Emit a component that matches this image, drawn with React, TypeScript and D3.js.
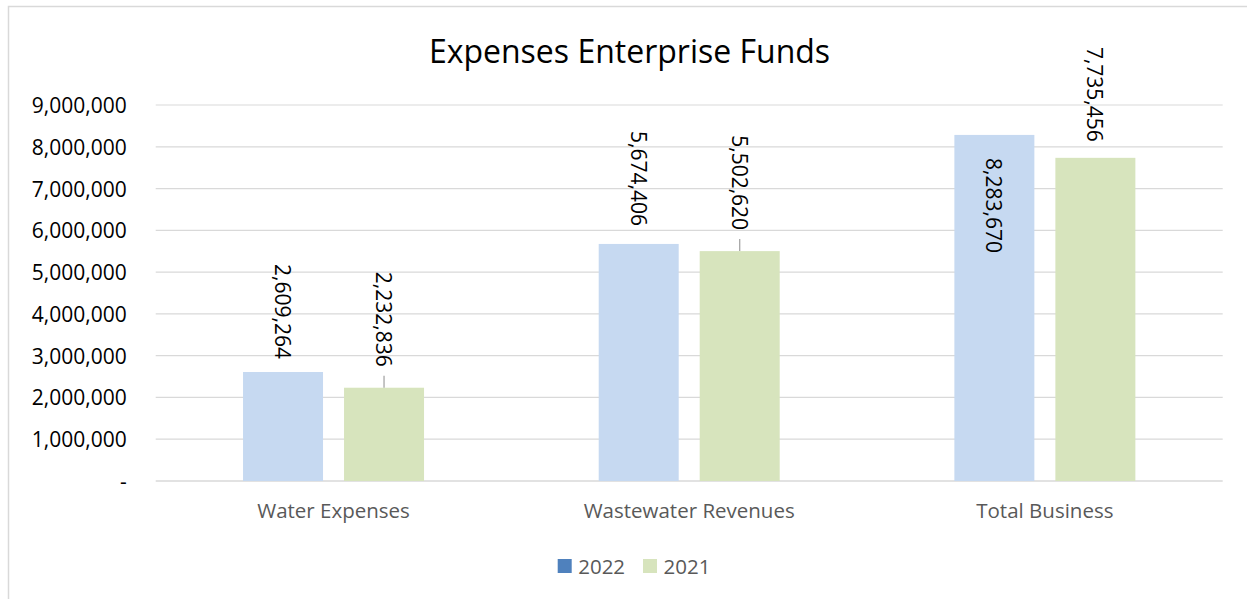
import React from "react";
import * as d3 from "d3";

const categories = ["Water Expenses", "Wastewater Revenues", "Total Business"];
const seriesNames = ["2022", "2021"];
const values2022 = [2609264, 5674406, 8283670];
const values2021 = [2232836, 5502620, 7735456];
const yTicks = [0, 1000000, 2000000, 3000000, 4000000, 5000000, 6000000, 7000000, 8000000, 9000000];

// label end offset (px) relative to bar top, per category, per series; negative = above
const labelOffsets2022 = [-13, -18, 118];
const labelOffsets2021 = [-21, -21, -16];
const leader2021 = [true, true, false];

const W = 1247;
const H = 599;
const FONT = "'Open Sans', 'Noto Sans', sans-serif";

const barColors = ["#C6D9F1", "#D7E4BD"];
const legendColors = ["#4F81BD", "#D7E4BD"];

export default function App() {
  const left = 155.7;
  const right = 1222.7;
  const top = 105;
  const bottom = 481;

  const x = d3.scaleBand<string>().domain(categories).range([left, right]).padding(0);
  const inner = d3
    .scaleBand<string>()
    .domain(seriesNames)
    .range([-90.5, 90.5])
    .paddingInner(0.208)
    .paddingOuter(0);
  const y = d3.scaleLinear().domain([0, 9000000]).range([bottom, top]);
  const fmt = d3.format(",");

  const series = [
    { name: "2022", values: values2022, offsets: labelOffsets2022, leaders: [false, false, false] },
    { name: "2021", values: values2021, offsets: labelOffsets2021, leaders: leader2021 },
  ];

  return (
    <svg
      width={W}
      height={H}
      style={{ position: "absolute", left: 0, top: 0, display: "block", background: "#fff" }}
      fontFamily={FONT}
    >
      <rect x={8.5} y={6.5} width={W + 10} height={H + 10} fill="#fff" stroke="#d9d9d9" strokeWidth={1.5} />

      <text x={629.5} y={62.5} textAnchor="middle" fontSize={32} fill="#000">
        Expenses Enterprise Funds
      </text>

      {yTicks.map((t) => (
        <g key={t}>
          <line
            x1={left}
            x2={right}
            y1={y(t)}
            y2={y(t)}
            stroke="#d9d9d9"
            strokeWidth={t === 0 ? 1.6 : 1.2}
          />
          <text
            x={126.7}
            y={y(t)}
            textAnchor="end"
            dominantBaseline="central"
            fontSize={21}
            fill="#000"
          >
            {t === 0 ? "-" : fmt(t)}
          </text>
        </g>
      ))}

      {series.map((s, si) =>
        categories.map((c, ci) => {
          const cx = (x(c) as number) + x.bandwidth() / 2;
          const bx = cx + (inner(s.name) as number);
          const bw = inner.bandwidth();
          const v = s.values[ci];
          const yt = y(v);
          const labelEnd = yt + s.offsets[ci];
          const lx = bx + bw / 2;
          return (
            <g key={s.name + c}>
              <rect x={bx} y={yt} width={bw} height={bottom - yt} fill={barColors[si]} />
              {s.leaders[ci] && (
                <line x1={lx} x2={lx} y1={labelEnd + 9} y2={yt} stroke="#a6a6a6" strokeWidth={1.3} />
              )}
              <text
                transform={`translate(${lx},${labelEnd}) rotate(90)`}
                textAnchor="end"
                dominantBaseline="central"
                fontSize={21}
                fill="#000"
              >
                {fmt(v)}
              </text>
            </g>
          );
        })
      )}

      {categories.map((c) => (
        <text
          key={c}
          x={(x(c) as number) + x.bandwidth() / 2}
          y={518.3}
          textAnchor="middle"
          fontSize={20.5}
          fill="#595959"
        >
          {c}
        </text>
      ))}

      {seriesNames.map((n, i) => {
        const sx = i === 0 ? 557.7 : 643;
        return (
          <g key={n}>
            <rect x={sx} y={559} width={14} height={14} fill={legendColors[i]} />
            <text x={sx + 20.5} y={566} dominantBaseline="central" fontSize={20.5} fill="#595959">
              {n}
            </text>
          </g>
        );
      })}
    </svg>
  );
}
